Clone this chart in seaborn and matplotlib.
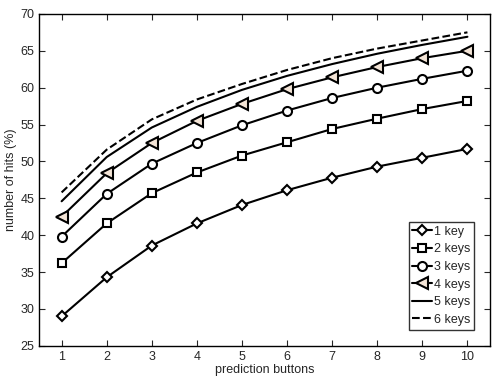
import matplotlib
matplotlib.use('Agg')
import matplotlib.pyplot as plt
import seaborn as sns

buttons = [1, 2, 3, 4, 5, 6, 7, 8, 9, 10]
key1 = [29.0, 34.3, 38.6, 41.6, 44.1, 46.1, 47.8, 49.3, 50.5, 51.7]
key2 = [36.2, 41.6, 45.7, 48.5, 50.8, 52.6, 54.4, 55.8, 57.1, 58.2]
key3 = [39.8, 45.6, 49.7, 52.5, 54.9, 56.9, 58.6, 60.0, 61.2, 62.3]
key4 = [42.5, 48.4, 52.5, 55.5, 57.8, 59.8, 61.4, 62.8, 64.0, 65.0]
key5 = [44.6, 50.6, 54.6, 57.4, 59.7, 61.6, 63.2, 64.6, 65.8, 66.9]
key6 = [45.8, 51.6, 55.7, 58.4, 60.5, 62.4, 64.0, 65.3, 66.4, 67.5]
labels = ['1 key', '2 keys', '3 keys', '4 keys', '5 keys', '6 keys']


def main():
    sns.set_style('ticks')
    plt.rcParams['font.family'] = ['Liberation Sans', 'DejaVu Sans']
    plt.rcParams['font.size'] = 9

    fig, ax = plt.subplots(figsize=(5.01, 3.86), dpi=100)
    fig.subplots_adjust(left=0.078, right=0.978, top=0.964, bottom=0.104)

    series = [key1, key2, key3, key4, key5, key6]
    styles = [
        dict(marker='D', markersize=5.5, markerfacecolor='white', linestyle='-'),
        dict(marker='s', markersize=6, markerfacecolor='white', linestyle='-'),
        dict(marker='o', markersize=6.5, markerfacecolor='white', linestyle='-'),
        dict(marker='<', markersize=8, markerfacecolor='#f3e4d6', linestyle='-'),
        dict(marker=None, linestyle='-'),
        dict(marker=None, linestyle='--'),
    ]
    for y, lab, st in zip(series, labels, styles):
        sns.lineplot(x=buttons, y=y, ax=ax, color='black', linewidth=1.5,
                     markeredgecolor='black', markeredgewidth=1.5,
                     label=lab, **st)

    ax.set(xlim=(0.5, 10.5), ylim=(25, 70),
           xlabel='prediction buttons', ylabel='number of hits (%)')
    ax.xaxis.labelpad = 1
    ax.yaxis.labelpad = 2
    ax.set_xticks(buttons)
    ax.set_yticks(range(25, 71, 5))
    ax.tick_params(direction='in', top=True, right=True, length=4, labelsize=9)
    for s in ax.spines.values():
        s.set_visible(True)
        s.set_linewidth(1)
        s.set_color('black')

    leg = ax.legend(loc='lower right', frameon=True, fancybox=False,
                    handlelength=1.6, handletextpad=0.1, borderpad=0.3,
                    labelspacing=0.45, fontsize=9, borderaxespad=1.3)
    leg.get_frame().set_edgecolor('black')
    leg.get_frame().set_linewidth(1)

    fig.savefig('out.png', dpi=100)


if __name__ == '__main__':
    main()
